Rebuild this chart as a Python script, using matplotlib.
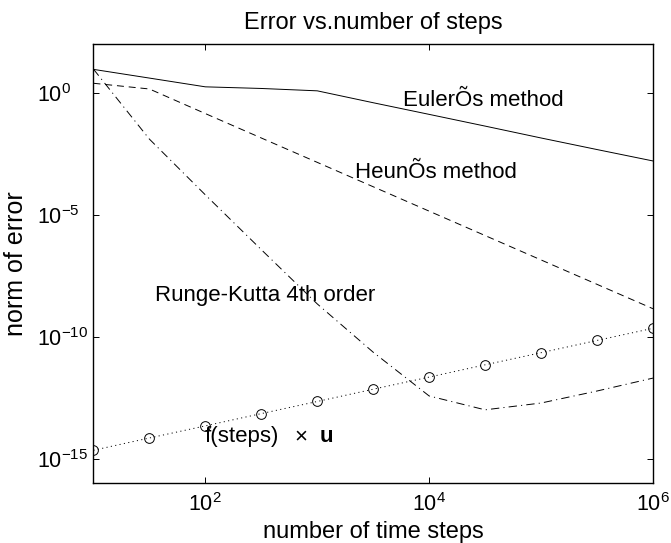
import numpy as np
import matplotlib
matplotlib.use("Agg")
import matplotlib.pyplot as plt

plt.rcParams['font.family'] = ['Liberation Sans', 'DejaVu Sans']
plt.rcParams['mathtext.fontset'] = 'custom'
plt.rcParams['mathtext.rm'] = 'Liberation Sans'
plt.rcParams['lines.scale_dashes'] = False

# number of time steps (half-decade grid)
steps = [10, 31.6, 100, 316, 1000, 3162, 1e4, 3.16e4, 1e5, 3.16e5, 1e6]

# error norms
err_euler = [9.1, 4.0, 1.75, 1.5, 1.2, 0.39, 0.13, 0.043, 0.014, 0.0047, 0.0016]
err_heun = [2.45, 1.43, 0.14, 1.4e-2, 1.4e-3, 1.4e-4, 1.4e-5, 1.4e-6, 1.4e-7, 1.4e-8, 1.4e-9]
err_rk4 = [9.3, 1.26e-2, 6.5e-5, 3.7e-7, 2.2e-9, 2.3e-11, 3.7e-13, 1.0e-13, 1.9e-13, 5.9e-13, 2.0e-12]
err_round = [2.2e-15, 7e-15, 2.2e-14, 7e-14, 2.2e-13, 7e-13, 2.2e-12, 7e-12, 2.2e-11, 7e-11, 2.2e-10]

fig = plt.figure(figsize=(6.71, 5.43), dpi=100)
ax = fig.add_axes([0.1393, 0.1105, 0.8338, 0.8085])

lw = 0.7
ax.loglog(steps, err_euler, color='k', lw=lw, linestyle='-')
ax.loglog(steps, err_heun, color='k', lw=lw, linestyle=(0, (5, 3.5)))
ax.loglog(steps, err_rk4, color='k', lw=lw, linestyle=(0, (6, 3, 0.8, 3)))
ax.loglog(steps, err_round, color='k', lw=lw, linestyle=(0, (0.8, 2.4)),
          marker='o', markersize=7, markerfacecolor='none',
          markeredgecolor='k', markeredgewidth=0.7)

ax.set_xlim(10, 1e6)
ax.set_ylim(1e-16, 1e2)
ax.set_xticks([1e2, 1e4, 1e6])
ax.set_yticks([1e-15, 1e-10, 1e-5, 1e0])
ax.minorticks_off()
ax.tick_params(direction='in', length=4, width=0.7, top=True, right=True,
               labelsize=15.5)
ax.tick_params(axis='x', pad=7)
ax.tick_params(axis='y', pad=41)
for lab in ax.get_yticklabels():
    lab.set_horizontalalignment('left')
for sp in ax.spines.values():
    sp.set_linewidth(1.0)

fs = 16
ax.text(5800, 0.46, 'EulerÕs method', fontsize=fs, va='center', ha='left')
ax.text(2190, 5.6e-4, 'HeunÕs method', fontsize=fs, va='center', ha='left')
ax.text(35.4, 4.7e-9, 'Runge-Kutta 4th order', fontsize=fs, va='center', ha='left')
ax.text(99, 7.8e-15, 'f(steps)', fontsize=fs, va='center', ha='left')
ax.text(620, 7.8e-15, '×', fontsize=fs, va='center', ha='left')
ax.text(1050, 7.8e-15, 'u', fontsize=fs, va='center', ha='left', fontweight='bold')

ax.set_title('Error vs.number of steps', fontsize=17, pad=11)
ax.set_xlabel('number of time steps', fontsize=17)
ax.set_ylabel('norm of error', fontsize=18)
ax.xaxis.set_label_coords(0.5, -0.087)
ax.yaxis.set_label_coords(-0.117, 0.5)

fig.savefig('out.png', dpi=100)
